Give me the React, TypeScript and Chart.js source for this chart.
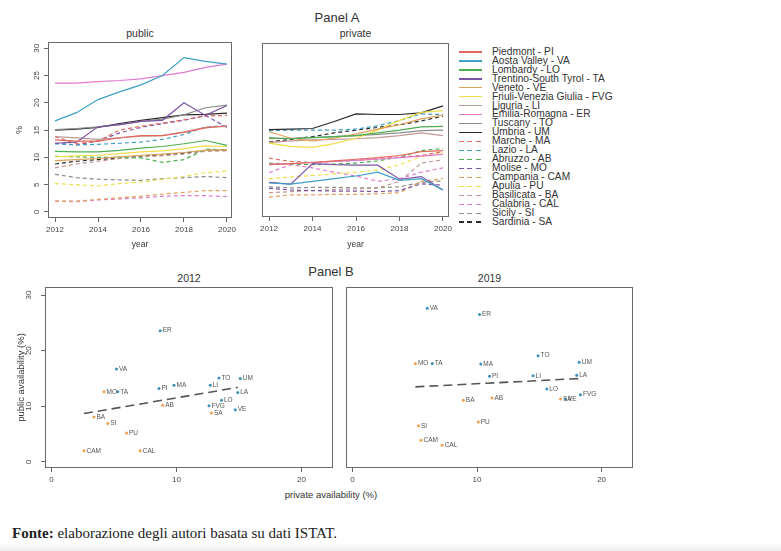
import React, { useEffect, useRef } from "react";
import { Chart, registerables } from "chart.js";
Chart.register(...registerables);

// ---------- DATA ----------
const years = [2012, 2013, 2014, 2015, 2016, 2017, 2018, 2019, 2020];
const yearTicks = [2012, 2014, 2016, 2018, 2020];
const pctTicks = [0, 5, 10, 15, 20, 25, 30];
const availTicksX = [0, 10, 20];
const availTicksY = [0, 10, 20, 30];

const regionNames = [
  "Piedmont - PI", "Aosta Valley - VA", "Lombardy - LO", "Trentino-South Tyrol - TA",
  "Veneto - VE", "Friuli-Venezia Giulia - FVG", "Liguria - LI", "Emilia-Romagna - ER",
  "Tuscany - TO", "Umbria - UM", "Marche - MA", "Lazio - LA", "Abruzzo - AB",
  "Molise - MO", "Campania - CAM", "Apulia - PU", "Basilicata - BA", "Calabria - CAL",
  "Sicily - SI", "Sardinia - SA",
];
const regionCodes = ["PI", "VA", "LO", "TA", "VE", "FVG", "LI", "ER", "TO", "UM", "MA", "LA", "AB", "MO", "CAM", "PU", "BA", "CAL", "SI", "SA"];
const isSouth = [false, false, false, false, false, false, false, false, false, false, false, false, true, true, true, true, true, true, true, true];

// public availability (%), 2012..2020
const pubPI = [13.2, 13.0, 13.0, 13.6, 14.0, 14.0, 14.6, 15.4, 15.8];
const pubVA = [16.7, 18.2, 20.6, 22.0, 23.3, 25.0, 28.3, 27.6, 27.1];
const pubLO = [11.1, 11.0, 11.0, 11.3, 11.7, 12.0, 12.5, 13.1, 12.2];
const pubTA = [12.6, 12.8, 15.6, 16.0, 16.6, 16.8, 20.0, 17.7, 19.5];
const pubVE = [9.4, 9.6, 9.8, 10.1, 10.4, 10.6, 10.9, 11.3, 11.4];
const pubFVG = [10.1, 10.3, 10.4, 10.7, 11.0, 11.2, 11.6, 12.1, 12.0];
const pubLI = [13.8, 13.6, 13.3, 13.6, 13.9, 14.0, 14.7, 15.5, 15.7];
const pubER = [23.6, 23.6, 23.9, 24.1, 24.4, 25.0, 25.6, 26.5, 27.1];
const pubTO = [15.1, 15.3, 15.6, 16.0, 16.6, 17.0, 17.8, 19.1, 19.6];
const pubUM = [15.0, 15.2, 15.5, 16.2, 16.8, 17.3, 17.8, 17.9, 18.1];
const pubMA = [13.8, 12.5, 13.0, 15.0, 15.7, 16.3, 16.9, 17.6, 17.7];
const pubLA = [12.5, 12.3, 12.4, 12.6, 12.8, 13.3, 14.2, 15.6, 15.8];
const pubAB = [10.2, 10.1, 10.0, 10.0, 9.9, 9.1, 9.6, 11.5, 11.4];
const pubMO = [12.6, 12.3, 13.0, 14.5, 15.5, 16.2, 16.8, 17.7, 15.5];
const pubCAM = [2.0, 2.0, 2.3, 2.6, 2.9, 3.3, 3.6, 3.9, 3.9];
const pubPU = [5.2, 5.0, 4.8, 5.2, 5.5, 6.0, 6.5, 7.2, 7.5];
const pubBA = [8.1, 8.8, 9.3, 9.8, 10.1, 10.3, 10.6, 11.1, 11.2];
const pubCAL = [2.0, 1.9, 2.2, 2.4, 2.6, 2.9, 3.0, 3.0, 2.8];
const pubSI = [6.9, 6.3, 6.0, 5.9, 5.8, 6.1, 6.3, 6.5, 6.3];
const pubSA = [8.8, 9.3, 9.6, 9.9, 10.2, 10.5, 10.8, 11.3, 11.3];

// private availability (%), 2012..2020
const privPI = [8.6, 8.8, 9.0, 9.3, 9.6, 9.9, 10.3, 11.0, 11.2];
const privVA = [5.2, 5.0, 5.5, 6.0, 6.5, 7.2, 5.7, 6.0, 3.9];
const privLO = [13.6, 13.4, 13.6, 13.8, 14.0, 14.5, 15.0, 15.6, 15.7];
const privTA = [5.3, 5.0, 8.8, 8.6, 8.5, 8.5, 5.9, 6.4, 3.9];
const privVE = [14.7, 13.5, 13.0, 13.5, 14.3, 15.2, 16.0, 17.1, 17.8];
const privFVG = [12.6, 12.0, 11.8, 12.5, 13.5, 15.0, 16.8, 18.3, 18.6];
const privLI = [12.7, 13.0, 13.2, 13.3, 13.4, 13.6, 14.0, 14.5, 14.0];
const privER = [8.7, 8.8, 9.0, 9.2, 9.4, 9.6, 9.9, 10.2, 10.5];
const privTO = [13.4, 13.5, 13.6, 13.8, 14.0, 14.2, 14.5, 14.9, 15.0];
const privUM = [15.1, 15.2, 15.3, 16.6, 18.0, 17.9, 17.9, 18.2, 19.5];
const privMA = [9.8, 9.2, 9.0, 9.2, 9.4, 9.7, 10.0, 10.3, 11.0];
const privLA = [14.9, 15.0, 15.0, 15.0, 15.2, 15.8, 16.8, 18.0, 17.9];
const privAB = [8.9, 8.7, 8.6, 8.7, 8.9, 9.3, 10.0, 11.2, 11.6];
const privMO = [4.2, 3.9, 3.8, 3.7, 3.7, 3.6, 3.8, 5.05, 4.8];
const privCAM = [2.6, 3.0, 3.0, 3.1, 3.1, 3.2, 3.4, 5.5, 6.0];
const privPU = [6.0, 6.3, 6.6, 6.9, 7.2, 7.6, 8.6, 10.1, 10.8];
const privBA = [3.4, 3.6, 3.8, 4.0, 4.1, 4.3, 5.5, 8.9, 9.5];
const privCAL = [7.1, 8.6, 8.0, 7.2, 6.5, 5.5, 6.0, 7.2, 8.0];
const privSI = [4.5, 4.3, 4.4, 4.4, 4.3, 4.3, 4.5, 5.3, 5.6];
const privSA = [12.8, 13.3, 13.8, 14.5, 15.0, 15.5, 16.0, 16.7, 17.6];

// fitted lines
const fit2012X = [2.6, 14.9];
const fit2012Y = [8.7, 13.4];
const fit2019X = [5.05, 18.3];
const fit2019Y = [13.5, 15.0];

const pubSeries = [pubPI, pubVA, pubLO, pubTA, pubVE, pubFVG, pubLI, pubER, pubTO, pubUM, pubMA, pubLA, pubAB, pubMO, pubCAM, pubPU, pubBA, pubCAL, pubSI, pubSA];
const privSeries = [privPI, privVA, privLO, privTA, privVE, privFVG, privLI, privER, privTO, privUM, privMA, privLA, privAB, privMO, privCAM, privPU, privBA, privCAL, privSI, privSA];

// ---------- STYLE ----------
const FONT = '"Liberation Sans", Arial, Helvetica, sans-serif';
const basePalette = ["#e4685e", "#3f9fc5", "#4caf50", "#7c54a3", "#e0a25a", "#eedf4a", "#bf9a94", "#e07bd0", "#8c8c8c", "#2a2a2a"];
const colorOf = (i: number) => basePalette[i % 10];
const BLUE = "#3d8fbb";
const ORANGE = "#f0a04c";

const framePlugin = {
  id: "frame",
  beforeDatasetsDraw(chart: any) {
    const { ctx, chartArea: a } = chart;
    ctx.save();
    ctx.strokeStyle = "#6a6a6a";
    ctx.lineWidth = 1;
    ctx.strokeRect(Math.round(a.left) + 0.5, Math.round(a.top) + 0.5, Math.round(a.right - a.left) - 1, Math.round(a.bottom - a.top) - 1);
    ctx.restore();
  },
};

const labelPlugin = {
  id: "ptlabels",
  afterDatasetsDraw(chart: any) {
    const ds: any = chart.data.datasets[0];
    if (!ds || !ds.pointLabels) return;
    const meta = chart.getDatasetMeta(0);
    const ctx = chart.ctx;
    ctx.save();
    ctx.font = `6.5px ${FONT}`;
    ctx.fillStyle = "#555";
    ctx.textBaseline = "middle";
    ctx.textAlign = "left";
    meta.data.forEach((el: any, i: number) => ctx.fillText(ds.pointLabels[i], el.x + 2.5, el.y));
    ctx.restore();
  },
};

const gridOpts = { display: true, drawOnChartArea: false, drawTicks: true, tickLength: 4, color: "#666", tickColor: "#666" };

function xYearScale(min: number, max: number, height: number) {
  return {
    type: "linear",
    min,
    max,
    afterBuildTicks: (s: any) => { s.ticks = yearTicks.map((v) => ({ value: v })); },
    afterFit: (s: any) => { s.height = height; s.paddingLeft = 0; s.paddingRight = 0; },
    grid: gridOpts,
    border: { display: false },
    ticks: { autoSkip: false, maxRotation: 0, minRotation: 0, padding: 3, font: { family: FONT, size: 8 }, color: "#444", callback: (v: any) => String(v) },
    title: { display: true, text: "year", font: { family: FONT, size: 8.5 }, color: "#333", padding: { top: 0, bottom: 2 } },
  };
}

function yPctScale(show: boolean) {
  return {
    type: "linear",
    min: -1.1,
    max: 31.15,
    display: show,
    afterBuildTicks: (s: any) => { s.ticks = pctTicks.map((v) => ({ value: v })); },
    afterFit: (s: any) => { s.width = show ? 40 : 0; s.paddingTop = 0; s.paddingBottom = 0; },
    grid: gridOpts,
    border: { display: false },
    ticks: { minRotation: 90, maxRotation: 90, crossAlign: "center", padding: 2.5, font: { family: FONT, size: 8 }, color: "#444", callback: (v: any) => String(v) },
    title: { display: true, text: "%", font: { family: FONT, size: 9 }, color: "#333", padding: { top: 6.6, bottom: 0 } },
  };
}

function lineConfig(series: number[][], xmin: number, xmax: number, showY: boolean, padLeft: number, padTop: number, xHeight: number) {
  return {
    type: "line",
    data: {
      datasets: series.map((arr, i) => ({
        label: regionNames[i],
        data: years.map((y, k) => ({ x: y, y: arr[k] })),
        borderColor: colorOf(i),
        backgroundColor: colorOf(i),
        borderWidth: 1.2,
        borderDash: i >= 10 ? [4, 3] : [],
        pointRadius: 0,
        tension: 0,
        fill: false,
      })),
    },
    options: {
      responsive: false,
      maintainAspectRatio: false,
      devicePixelRatio: 1,
      animation: false,
      layout: { padding: { left: padLeft, top: padTop, right: 4, bottom: 0 } },
      plugins: { legend: { display: false }, tooltip: { enabled: false }, title: { display: false } },
      scales: { x: xYearScale(xmin, xmax, xHeight), y: yPctScale(showY) },
    },
    plugins: [framePlugin],
  };
}

function scatterConfig(idx: number, fitX: number[], fitY: number[], showY: boolean, padLeft: number) {
  return {
    type: "scatter",
    data: {
      datasets: [
        {
          label: "regions",
          pointLabels: regionCodes,
          data: regionCodes.map((c, i) => ({ x: privSeries[i][idx], y: pubSeries[i][idx] })),
          backgroundColor: isSouth.map((s) => (s ? ORANGE : BLUE)),
          borderWidth: 0,
          pointRadius: 1.5,
        },
        {
          type: "line",
          label: "fit",
          data: fitX.map((x, i) => ({ x, y: fitY[i] })),
          borderColor: "#555",
          borderWidth: 1.6,
          borderDash: [9, 5],
          pointRadius: 0,
          showLine: true,
          fill: false,
        },
      ],
    },
    options: {
      responsive: false,
      maintainAspectRatio: false,
      devicePixelRatio: 1,
      animation: false,
      layout: { padding: { left: padLeft, top: 4, right: 4, bottom: 0 } },
      plugins: { legend: { display: false }, tooltip: { enabled: false } },
      scales: {
        x: {
          type: "linear",
          min: -0.52,
          max: 22.52,
          afterBuildTicks: (s: any) => { s.ticks = availTicksX.map((v) => ({ value: v })); },
          afterFit: (s: any) => { s.height = 20; s.paddingLeft = 0; s.paddingRight = 0; },
          grid: gridOpts,
          border: { display: false },
          ticks: { autoSkip: false, maxRotation: 0, padding: 3, font: { family: FONT, size: 8 }, color: "#444", callback: (v: any) => String(v) },
        },
        y: {
          type: "linear",
          min: -1.08,
          max: 31.44,
          display: showY,
          afterBuildTicks: (s: any) => { s.ticks = availTicksY.map((v) => ({ value: v })); },
          afterFit: (s: any) => { s.width = showY ? 37 : 0; s.paddingTop = 0; s.paddingBottom = 0; },
          grid: gridOpts,
          border: { display: false },
          ticks: { minRotation: 90, maxRotation: 90, crossAlign: "center", padding: 7.5, font: { family: FONT, size: 8 }, color: "#444", callback: (v: any) => String(v) },
          title: { display: true, text: "public availability (%)", font: { family: FONT, size: 9.5 }, color: "#333", padding: { top: 8, bottom: 0 } },
        },
      },
    },
    plugins: [framePlugin, labelPlugin],
  };
}

function ChartBox({ left, top, width, height, make }: any) {
  const ref = useRef<HTMLCanvasElement>(null);
  useEffect(() => {
    const chart = new Chart(ref.current as HTMLCanvasElement, make());
    return () => chart.destroy();
  }, []);
  return (
    <div style={{ position: "absolute", left, top, width, height }}>
      <canvas ref={ref} width={width} height={height} style={{ width, height, display: "block" }} />
    </div>
  );
}

function Label({ x, y, size, children, rotate, weight }: any) {
  return (
    <div
      style={{
        position: "absolute",
        left: x,
        top: y,
        transform: `translate(-50%, -50%)${rotate ? " rotate(-90deg)" : ""}`,
        fontSize: size,
        fontFamily: FONT,
        color: "#333",
        whiteSpace: "nowrap",
        lineHeight: 1,
        fontWeight: weight || "normal",
      }}
    >
      {children}
    </div>
  );
}

export default function App() {
  return (
    <div style={{ position: "fixed", left: 0, top: 0, width: 781, height: 551, background: "#fff", overflow: "hidden" }}>
      <Label x={337} y={17} size={13}>Panel A</Label>
      <Label x={140} y={33} size={10.5}>public</Label>
      <Label x={355.5} y={33} size={10.5}>private</Label>

      <ChartBox left={8} top={36} width={228} height={216} make={() => lineConfig(pubSeries, 2011.674, 2020.233, true, 0, 6, 34)} />
      <ChartBox left={258} top={36} width={195} height={216} make={() => lineConfig(privSeries, 2011.678, 2020.276, false, 4, 7, 35)} />

      {regionNames.map((name, i) => {
        const y = 52 + 8.95 * i;
        const c = colorOf(i);
        const bg = i >= 10 ? `repeating-linear-gradient(to right, ${c} 0px, ${c} 5px, transparent 5px, transparent 8.5px)` : c;
        return (
          <React.Fragment key={name}>
            <div style={{ position: "absolute", left: 459, top: y - 0.6, width: 23, height: 1.3, background: bg }} />
            <div style={{ position: "absolute", left: 492, top: y - 5.2, fontSize: 10.2, lineHeight: "10px", fontFamily: FONT, color: "#333", whiteSpace: "nowrap" }}>{name}</div>
          </React.Fragment>
        );
      })}

      <Label x={331} y={271} size={13}>Panel B</Label>
      <Label x={189} y={278} size={10.5}>2012</Label>
      <Label x={489.5} y={278} size={10.5}>2019</Label>

      <ChartBox left={8} top={283} width={329} height={205} make={() => scatterConfig(0, fit2012X, fit2012Y, true, 0)} />
      <ChartBox left={342} top={283} width={295} height={205} make={() => scatterConfig(7, fit2019X, fit2019Y, false, 4)} />

      <Label x={331} y={495} size={9.5}>private availability (%)</Label>

      <div style={{ position: "absolute", left: 12, top: 524, fontFamily: '"Liberation Serif", "Times New Roman", serif', fontSize: 15, color: "#222", whiteSpace: "nowrap", lineHeight: "18px" }}>
        <b>Fonte:</b> elaborazione degli autori basata su dati ISTAT.
      </div>
      <div style={{ position: "absolute", left: 0, top: 543, width: 781, height: 8, background: "linear-gradient(to bottom, #ffffff, #ececec)" }} />
    </div>
  );
}
